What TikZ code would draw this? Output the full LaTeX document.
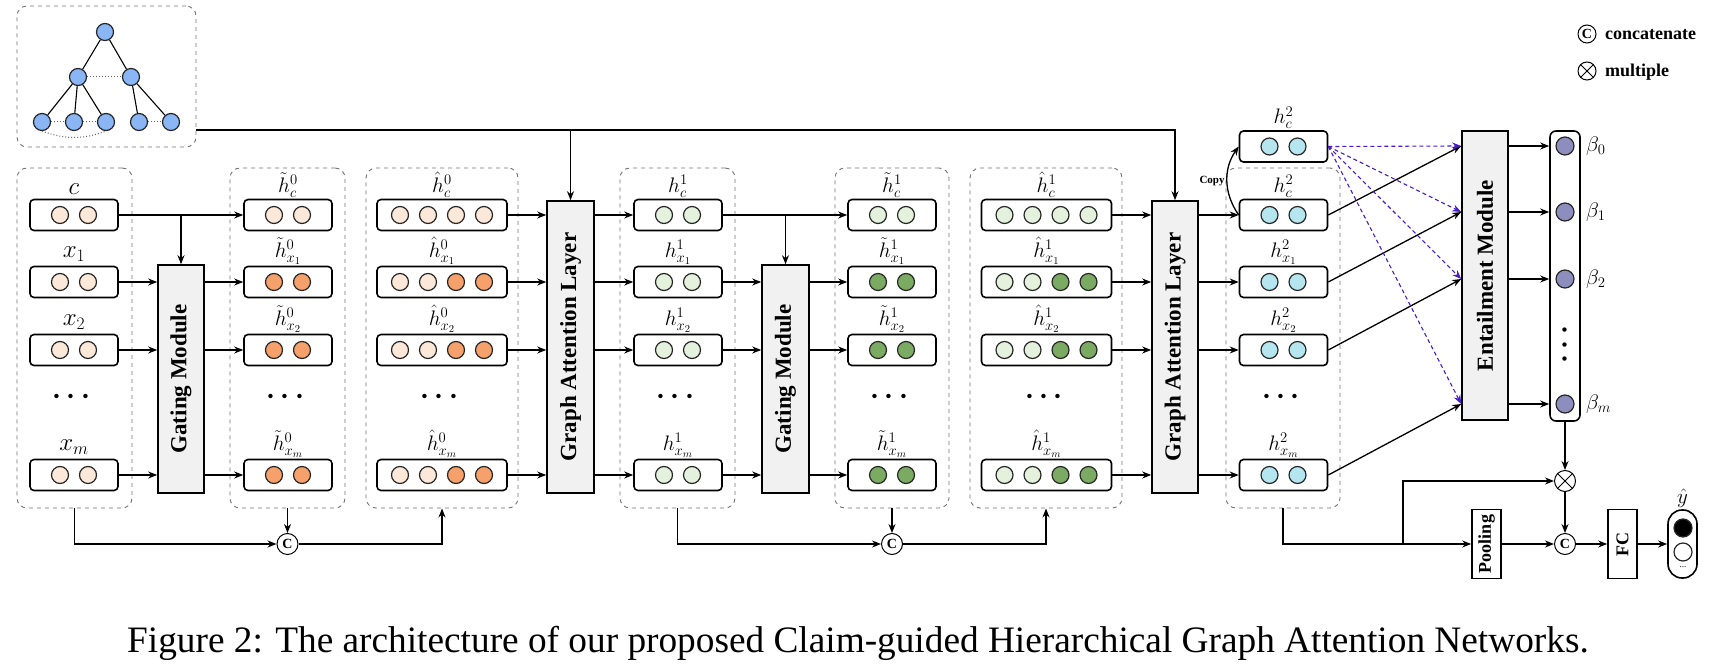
\RequirePackage{fix-cm}
\documentclass[tikz,border=0pt]{standalone}
\usepackage{amsmath}
\usepackage{graphicx}
\usepackage{fontspec}
\setmainfont{Liberation Serif}
\usetikzlibrary{arrows.meta,positioning}
\definecolor{pc}{HTML}{FCE8D8}
\definecolor{po}{HTML}{F6A06C}
\definecolor{lg}{HTML}{E4F1DC}
\definecolor{dg}{HTML}{7BAA62}
\definecolor{lb}{HTML}{B5E6F0}
\definecolor{betapurple}{HTML}{8D8EBE}
\definecolor{treeblue}{HTML}{8AB6F6}
\definecolor{modfill}{HTML}{F1F1F1}
\definecolor{dashblue}{HTML}{4A1ACB}
\tikzset{
    %Define standard arrow tip
    >={Stealth[length=9pt,width=7pt]},
    %Define style for vector boxes
    vecbox/.style={
           rectangle,
           rounded corners=4pt,
           draw=black, line width=1.6pt,
           minimum width=88pt,
           minimum height=31pt},
    unit/.style={
           circle,
           draw=black!85, line width=1.2pt,
           minimum size=17pt, inner sep=0pt},
    tn/.style={
           circle,
           draw=black!85, fill=treeblue, line width=1.2pt,
           minimum size=17pt, inner sep=0pt},
    group/.style={
           rectangle,
           rounded corners=10pt,
           draw=black!55, line width=0.9pt,
           dash pattern=on 4pt off 4pt},
    % Define style for modules
    module/.style={
           rectangle,
           draw=black, line width=1.6pt,
           fill=modfill, inner sep=0pt,
           font=\bfseries\fontsize{23}{25}\selectfont},
    opc/.style={
           circle,
           draw=black, line width=1pt,
           minimum size=21pt, inner sep=0pt,
           font=\bfseries\fontsize{14}{14}\selectfont},
    hlbl/.style={inner sep=1pt, font=\fontsize{21}{23}\selectfont},
    inlbl/.style={inner sep=1pt, font=\fontsize{25}{27}\selectfont},
    dots/.style={inner sep=0pt, font=\boldmath\fontsize{28}{28}\selectfont},
    legtext/.style={inner sep=0pt, font=\bfseries\fontsize{18}{20}\selectfont},
    % Define arrow style
    pil/.style={
           ->,
           line width=1.3pt},
    dashpil/.style={
           ->,
           draw=dashblue,
           line width=1.1pt,
           dash pattern=on 4pt off 3pt},
    tedge/.style={line width=1.1pt},
    tdot/.style={dotted, draw=black!60, line width=1pt}
}
\begin{document}
\begin{tikzpicture}[x=1pt, y=-1pt]
  \useasboundingbox (0,0) rectangle (1713,668);
  % tree
  \node[group, minimum width=179pt, minimum height=141pt] (gtree) at (106.5,76.5) {};
  \node[tn] (root) at (105,32) {};
  \node[tn] (ta) at (78,77) {};
  \node[tn] (tb) at (131,77) {};
  \foreach \k/\kx in {1/42,2/74,3/106,4/139,5/171}
    \node[tn] (leaf\k) at (\kx,122) {};
  \draw[tedge] (root) -- (ta) (root) -- (tb) (ta) -- (leaf1) (ta) -- (leaf2)
        (ta) -- (leaf3) (tb) -- (leaf4) (tb) -- (leaf5);
  \draw[tdot] (ta) -- (tb) (leaf1) -- (leaf2) (leaf2) -- (leaf3) (leaf4) -- (leaf5);
  \draw[tdot] (leaf1.south) to[bend right=20] (leaf3.south);

  % dashed groups
  \foreach \g/\gx/\gw in {in/74.5/115,ht0/287.5/115,hh0/442/152,h1/677.5/115,
                          ht1/892/114,hh1/1046/152,h2/1283/114}
    \node[group, minimum width=\gw, minimum height=340pt] (g\g) at (\gx,338) {};

  % input column
  \foreach \r/\y/\s in {c/215/c,1/282/x_1,2/350/x_2,m/475/x_m}{
    \node[vecbox] (in\r) at (74,\y) {};
    \node[inlbl, above=3pt of in\r] {$\s$};
    \foreach \dx in {-14,14}
      \node[unit, fill=pc, xshift=\dx] at (in\r) {};
  }
  \node[dots] at (74,397) {$\cdots$};

  % vector columns
  \foreach \col/\cx/\bw/\n/\fc/\fx/\hl in {
      ht0/288/88/2/{pc,pc}/{po,po}/\tilde{h}^0,
      hh0/442/130/4/{pc,pc,pc,pc}/{pc,pc,po,po}/\hat{h}^0,
      h1/678/88/2/{lg,lg}/{lg,lg}/h^1,
      ht1/892/88/2/{lg,lg}/{dg,dg}/\tilde{h}^1,
      hh1/1046.5/130/4/{lg,lg,lg,lg}/{lg,lg,dg,dg}/\hat{h}^1,
      h2/1283.5/88/2/{lb,lb}/{lb,lb}/h^2}{
    \foreach \r/\y/\s in {c/215/c,1/282/x_1,2/350/x_2,m/475/x_m}{
      \node[vecbox, minimum width=\bw] (\col\r) at (\cx,\y) {};
      \node[hlbl, above=0pt of \col\r] {$\hl_{\s}$};
    }
    \foreach \f [count=\i] in \fc
      \node[unit, fill=\f, xshift={(\i-(\n+1)/2)*28}] at (\col c) {};
    \foreach \r in {1,2,m}
      \foreach \f [count=\i] in \fx
        \node[unit, fill=\f, xshift={(\i-(\n+1)/2)*28}] at (\col\r) {};
    \node[dots] at (\cx,397) {$\cdots$};
  }

  % modules
  \node[module, minimum width=46pt, minimum height=228pt] (gate1) at (181,379) {\rotatebox{90}{Gating Module}};
  \node[module, minimum width=47pt, minimum height=292pt] (gat1) at (570.5,347) {\rotatebox{90}{Graph Attention Layer}};
  \node[module, minimum width=47pt, minimum height=228pt] (gate2) at (785.5,379) {\rotatebox{90}{Gating Module}};
  \node[module, minimum width=46pt, minimum height=292pt] (gat2) at (1175,347) {\rotatebox{90}{Graph Attention Layer}};
  \node[module, minimum width=46pt, minimum height=289pt] (ent) at (1485,275.5) {\rotatebox{90}{Entailment Module}};

  % copied claim vector
  \node[vecbox] (hcc) at (1283.5,146.5) {};
  \node[hlbl, above=0pt of hcc] {$h^2_c$};
  \foreach \dx in {-14,14}
    \node[unit, fill=lb, xshift=\dx] at (hcc) {};

  % beta column
  \node[rectangle, rounded corners=6pt, draw, line width=1.6pt,
        minimum width=30pt, minimum height=290pt] (bcol) at (1565,276) {};
  \foreach \b/\by/\bt in {0/146/\beta_0,1/212/\beta_1,2/279/\beta_2,m/404/\beta_m}{
    \node[unit, fill=betapurple, minimum size=18pt] (b\b) at (1565,\by) {};
    \node[hlbl, anchor=west] at (1585,\by) {$\bt$};
    \draw[pil] (ent.east |- b\b) -- (bcol.west |- b\b);
  }
  \node[dots, rotate=90] at (1565,342) {$\cdots$};

  % stage 1
  \draw[pil] (inc) -- (ht0c);
  \draw[pil] (gate1 |- inc) -- (gate1);
  \foreach \r in {1,2,m}{
    \draw[pil] (in\r) -- (gate1.west |- in\r);
    \draw[pil] (gate1.east |- ht0\r) -- (ht0\r);
  }
  % graph attention layers
  \foreach \r in {c,1,2,m}{
    \draw[pil] (hh0\r) -- (gat1.west |- hh0\r);
    \draw[pil] (gat1.east |- h1\r) -- (h1\r);
    \draw[pil] (hh1\r) -- (gat2.west |- hh1\r);
    \draw[pil] (gat2.east |- h2\r) -- (h2\r);
  }
  % stage 2
  \draw[pil] (h1c) -- (ht1c);
  \draw[pil] (gate2 |- h1c) -- (gate2);
  \foreach \r in {1,2,m}{
    \draw[pil] (h1\r) -- (gate2.west |- h1\r);
    \draw[pil] (gate2.east |- ht1\r) -- (ht1\r);
  }
  % tree to graph layers
  \coordinate (treeout) at (196,130);
  \draw[pil] (treeout) -| (gat2);
  \draw[pil] (gat1 |- treeout) -- (gat1);

  % concatenation
  \node[opc] (cat1) at (287.5,544) {C};
  \node[opc] (cat2) at (892,544) {C};
  \draw[pil] (gin.south) |- (cat1);
  \draw[pil] (ght0.south) -- (cat1);
  \draw[pil] (cat1) -| (ghh0.south);
  \draw[pil] (gh1.south) |- (cat2);
  \draw[pil] (ght1.south) -- (cat2);
  \draw[pil] (cat2) -| (ghh1.south);

  % copy and entailment
  \draw[pil] (h2c.west) to[bend left=35]
        node[left, inner sep=2pt, font=\bfseries\fontsize{11}{11}\selectfont] {Copy} (hcc.west);
  \foreach \r/\b in {c/0,1/1,2/2,m/m}{
    \draw[pil] (h2\r.east) -- (ent.west |- b\b);
    \draw[dashpil] (hcc.east) -- (ent.west |- b\b);
  }

  % output part
  \node[opc] (mul) at (1565,481) {};
  \draw[line width=1pt] (mul.45) -- (mul.225) (mul.135) -- (mul.315);
  \node[opc] (cat3) at (1565,544) {C};
  \node[module, fill=white, minimum width=29pt, minimum height=69pt,
        font=\bfseries\fontsize{18}{20}\selectfont] (pool) at (1486.5,544) {\rotatebox{90}{Pooling}};
  \node[module, fill=white, minimum width=29pt, minimum height=69pt,
        font=\bfseries\fontsize{18}{20}\selectfont] (fc) at (1622.5,544) {\rotatebox{90}{FC}};
  \node[rectangle, rounded corners=14pt, draw, line width=1.6pt,
        minimum width=29pt, minimum height=68pt] (out) at (1682.5,544) {};
  \node[unit, fill=black, minimum size=18pt] (ypos) at (1683,528) {};
  \node[unit, fill=white, minimum size=18pt] (yneg) at (1683,552) {};
  \node[inner sep=0pt, font=\fontsize{9}{9}\selectfont] at (1683,567) {...};
  \node[hlbl, above=0pt of out] {$\hat{y}$};
  \coordinate (split) at (1403,544);
  \draw[pil] (gh2.south) |- (pool.west);
  \draw[pil] (split) |- (mul);
  \draw[pil] (bcol.south) -- (mul);
  \draw[pil] (pool) -- (cat3);
  \draw[pil] (mul) -- (cat3);
  \draw[pil] (cat3) -- (fc);
  \draw[pil] (fc) -- (out);

  % legend
  \node[opc, minimum size=18pt] (lgc) at (1587,34) {C};
  \node[legtext, anchor=base west] at (1605,40) {concatenate};
  \node[opc, minimum size=18pt] (lgm) at (1587,71) {};
  \draw[line width=1pt] (lgm.45) -- (lgm.225) (lgm.135) -- (lgm.315);
  \node[legtext, anchor=base west] at (1605,77) {multiple};

  % caption
  \node[inner sep=0pt, anchor=base west, font=\fontsize{37.3}{40}\selectfont] (caption) at (127,652)
        {Figure 2: The architecture of our proposed Claim-guided Hierarchical Graph Attention Networks.};
\end{tikzpicture}
\end{document}
